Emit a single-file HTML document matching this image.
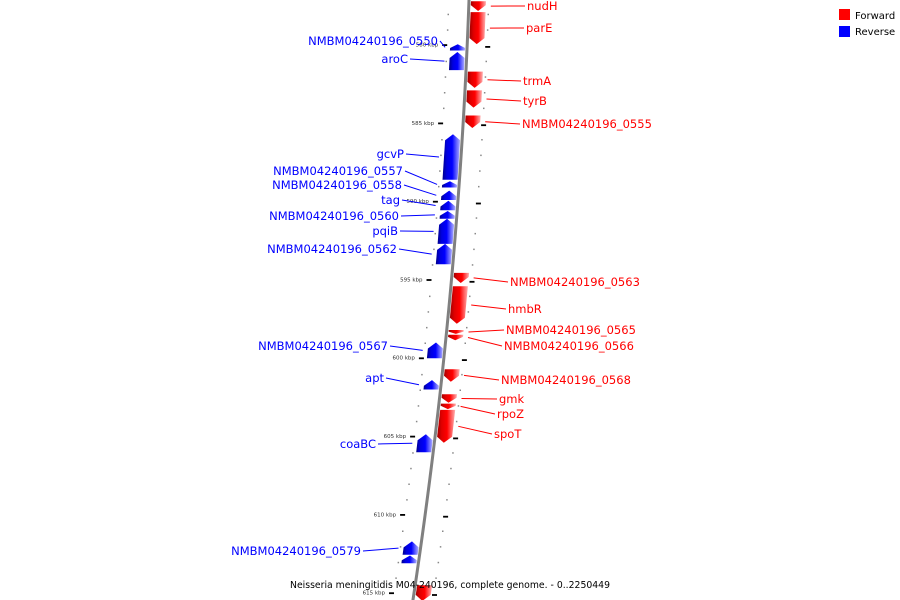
<!DOCTYPE html>
<html><head><meta charset="utf-8"><style>
html,body{margin:0;padding:0;background:#fff;}
svg{display:block;font-family:"DejaVu Sans","Liberation Sans",sans-serif;}
</style></head><body>
<svg id="map" width="900" height="600" viewBox="0 0 900 600" xmlns="http://www.w3.org/2000/svg">
<defs>
<linearGradient id="gF" x1="0" x2="1" y1="0" y2="0">
<stop offset="0" stop-color="#a00000"/><stop offset="0.25" stop-color="#e00000"/><stop offset="0.55" stop-color="#ff0000"/><stop offset="0.75" stop-color="#ff5050"/><stop offset="1" stop-color="#ffb0b0"/>
</linearGradient>
<linearGradient id="gR" x1="0" x2="1" y1="0" y2="0">
<stop offset="0" stop-color="#00008a"/><stop offset="0.25" stop-color="#0000e0"/><stop offset="0.55" stop-color="#0000ff"/><stop offset="0.75" stop-color="#5050ff"/><stop offset="1" stop-color="#b0b0ff"/>
</linearGradient>
</defs>
<g id="ticks"></g>
<path id="backbone" fill="none" stroke="#808080" stroke-width="3"/>
<g id="features"></g>
<g id="labels"></g>
<g>
<rect x="839" y="9" width="11" height="11" fill="#ff0000"/>
<text x="855" y="19" font-size="10" fill="#000">Forward</text>
<rect x="839" y="26" width="11" height="11" fill="#0000ff"/>
<text x="855" y="35" font-size="10" fill="#000">Reverse</text>
</g>
<text x="290" y="588" font-size="10" textLength="320" lengthAdjust="spacingAndGlyphs" fill="#000">Neisseria meningitidis M04-240196, complete genome. - 0..2250449</text>
</svg>
<script>
const geneNames = ["nudH","parE","trmA","tyrB","NMBM04240196_0555","NMBM04240196_0563","hmbR","NMBM04240196_0565","NMBM04240196_0566","NMBM04240196_0568","gmk","rpoZ","spoT","","NMBM04240196_0550","aroC","gcvP","NMBM04240196_0557","NMBM04240196_0558","tag","NMBM04240196_0560","pqiB","NMBM04240196_0562","NMBM04240196_0567","apt","coaBC","NMBM04240196_0579",""];
const geneStarts = [577.2,577.9,581.7,582.9,584.5,594.55,595.4,598.2,598.5,600.7,602.3,602.9,603.3,614.5,579.95,580.45,585.7,588.7,589.3,589.95,590.6,591.1,592.7,599.0,601.4,604.85,611.7,612.6];
const geneEnds = [577.83,579.94,582.74,584.0,585.3,595.2,597.8,598.45,598.85,601.5,602.85,603.25,605.4,615.5,580.35,581.6,588.6,589.1,589.9,590.55,591.1,592.7,594.0,600.0,602.0,606.0,612.55,613.1];
const geneStrands = [1,1,1,1,1,1,1,1,1,1,1,1,1,1,-1,-1,-1,-1,-1,-1,-1,-1,-1,-1,-1,-1,-1,-1];
const majorTicks = [580,585,590,595,600,605,610,615];
const majorTickLabels = ["580 kbp","585 kbp","590 kbp","595 kbp","600 kbp","605 kbp","610 kbp","615 kbp"];
// label layout (not data): anchor x, y for each gene label
const labelX = [527,526,523,523,522,510,508,506,504,501,499,497,494,0,438,408,404,403,402,400,399,398,397,388,384,376,361,0];
const labelY = [6,28,81,101,124,282,309,330,346,380,399,414,434,0,41,59,154,171,185,200,216,231,249,346,378,444,551,0];

const NS="http://www.w3.org/2000/svg";
function yOf(kbp){return 45+(kbp-580)*15.66;}
function bb(y){return 469-0.0358*y-0.000096*y*y;}
function mk(tag,attrs,parent){const e=document.createElementNS(NS,tag);for(const k in attrs)e.setAttribute(k,attrs[k]);parent.appendChild(e);return e;}

// backbone
let d="";for(let y=-5;y<=605;y+=5){d+=(y===-5?"M":"L")+bb(y).toFixed(2)+","+y+" ";}
document.getElementById("backbone").setAttribute("d",d);

// ticks
const tg=document.getElementById("ticks");
for(let k=577;k<=616;k++){
  const y=yOf(k);const x=bb(y);
  const major=majorTicks.indexOf(k);
  if(major>=0){
    const l=mk("rect",{x:(x-25).toFixed(1),y:(y-0.8).toFixed(1),width:5,height:1.8,fill:"#000"},tg);
    
    
    const r=mk("rect",{x:(x+18).toFixed(1),y:(y+1).toFixed(1),width:5,height:1.8,fill:"#000"},tg);
    
    
    const t=mk("text",{x:(x-29).toFixed(1),y:(y+1.5).toFixed(1),"font-size":"5.5","text-anchor":"end",fill:"#333"},tg);
    t.textContent=majorTickLabels[major];
    
    
  } else {
    const a=mk("rect",{x:(x-21).toFixed(1),y:(y).toFixed(1),width:1.5,height:1.5,fill:"#888"},tg);
    
    
    const b=mk("rect",{x:(x+19).toFixed(1),y:(y).toFixed(1),width:1.5,height:1.5,fill:"#888"},tg);
    
    
  }
}

// features
const fg=document.getElementById("features");
const lg=document.getElementById("labels");
for(let i=0;i<geneNames.length;i++){
  const y1=yOf(geneStarts[i]),y2=yOf(geneEnds[i]);
  const fwd=geneStrands[i]>0;
  const o1=fwd?2:-17,o2=fwd?17:-2;
  const tip=Math.min(6,(y2-y1)*0.6);
  let pts;
  if(fwd){
    const ys=y2-tip;
    pts=[[bb(y1)+o1,y1],[bb(y1)+o2,y1],[bb(ys)+o2,ys],[bb(y2)+(o1+o2)/2,y2],[bb(ys)+o1,ys]];
  } else {
    const ys=y1+tip;
    pts=[[bb(y1)+(o1+o2)/2,y1],[bb(ys)+o2,ys],[bb(y2)+o2,y2],[bb(y2)+o1,y2],[bb(ys)+o1,ys]];
  }
  const p=mk("polygon",{points:pts.map(q=>q[0].toFixed(1)+","+q[1].toFixed(1)).join(" "),fill:fwd?"url(#gF)":"url(#gR)"},fg);
  
  
  if(!geneNames[i])continue;
  const col=fwd?"#ff0000":"#0000ff";
  const my=(y1+y2)/2;
  if(fwd){
    const line=mk("line",{x1:(bb(my)+22).toFixed(1),y1:my.toFixed(1),x2:labelX[i]-2,y2:labelY[i],stroke:col,"stroke-width":1},lg);
    
    
    const t=mk("text",{x:labelX[i],y:labelY[i]+4,"font-size":"11.5",fill:col},lg);
    t.textContent=geneNames[i];
    
    
  } else {
    const line=mk("line",{x1:(bb(my)-22).toFixed(1),y1:my.toFixed(1),x2:labelX[i]+2,y2:labelY[i],stroke:col,"stroke-width":1},lg);
    
    
    const t=mk("text",{x:labelX[i],y:labelY[i]+4,"font-size":"11.5","text-anchor":"end",fill:col},lg);
    t.textContent=geneNames[i];
    
    
  }
}
</script>
</body></html>
